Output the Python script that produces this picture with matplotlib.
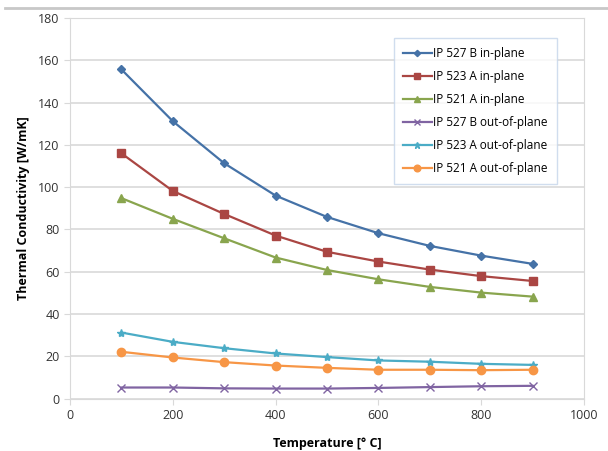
import matplotlib.pyplot as plt
from matplotlib.lines import Line2D

plt.rcParams['font.family'] = ['Open Sans', 'DejaVu Sans']

temps = [100, 200, 300, 400, 500, 600, 700, 800, 900]
ip527b_in = [155.7, 131.2, 111.3, 96.0, 85.9, 78.2, 72.2, 67.6, 63.7]
ip523a_in = [116.0, 98.2, 87.3, 77.1, 69.4, 64.8, 61.0, 57.9, 55.6]
ip521a_in = [94.8, 85.0, 75.8, 66.7, 60.8, 56.4, 52.8, 50.1, 48.2]
ip527b_out = [5.2, 5.2, 4.8, 4.7, 4.7, 5.0, 5.4, 5.8, 6.0]
ip523a_out = [31.2, 26.8, 23.8, 21.3, 19.6, 18.0, 17.4, 16.4, 15.9]
ip521a_out = [22.1, 19.4, 17.2, 15.6, 14.5, 13.6, 13.6, 13.4, 13.6]

series = [
    ('IP 527 B in-plane', ip527b_in, '#4572A7', 'D', 4),
    ('IP 523 A in-plane', ip523a_in, '#AA4643', 's', 6),
    ('IP 521 A in-plane', ip521a_in, '#89A54E', '^', 6),
    ('IP 527 B out-of-plane', ip527b_out, '#8064A2', 'x', 6),
    ('IP 523 A out-of-plane', ip523a_out, '#4BACC6', '*', 6),
    ('IP 521 A out-of-plane', ip521a_out, '#F79646', 'o', 6),
]

fig = plt.figure(figsize=(6.08, 4.51), dpi=100)
ax = fig.add_axes([0.1151, 0.1164, 0.8454, 0.8436])

for name, vals, col, mk, ms in series:
    ax.plot(temps, vals, color=col, marker=mk, markersize=ms, linewidth=1.6,
            markeredgecolor=col, markeredgewidth=1.0, label=name)

ax.set_xlim(0, 1000)
ax.set_ylim(0, 180)
ax.set_xticks(range(0, 1001, 200))
ax.set_yticks(range(0, 181, 20))
ax.yaxis.grid(True, color='#d9d9d9', linewidth=1.2)
ax.set_axisbelow(True)
for s in ax.spines.values():
    s.set_color('#d9d9d9')
ax.tick_params(colors='#d9d9d9', labelcolor='#333333', labelsize=9, length=4)

ax.set_xlabel('Temperature [° C]', fontsize=9, fontweight='bold', labelpad=11)
ax.set_ylabel('Thermal Conductivity [W/mK]', fontsize=9, fontweight='bold', labelpad=6)

leg = ax.legend(loc='upper left', bbox_to_anchor=(0.630, 0.947), fontsize=8.5,
                frameon=True, fancybox=False, labelspacing=0.85,
                handlelength=2.5, handletextpad=0.1, borderpad=0.75,
                borderaxespad=0, markerscale=0.8)
leg.get_frame().set_edgecolor('#c5d5ea')
leg.get_frame().set_linewidth(1.0)

fig.add_artist(Line2D([5 / 608, 1], [1 - 7.5 / 451, 1 - 7.5 / 451],
                      color='#c8c8c8', linewidth=2))

fig.savefig('out.png', dpi=100)
